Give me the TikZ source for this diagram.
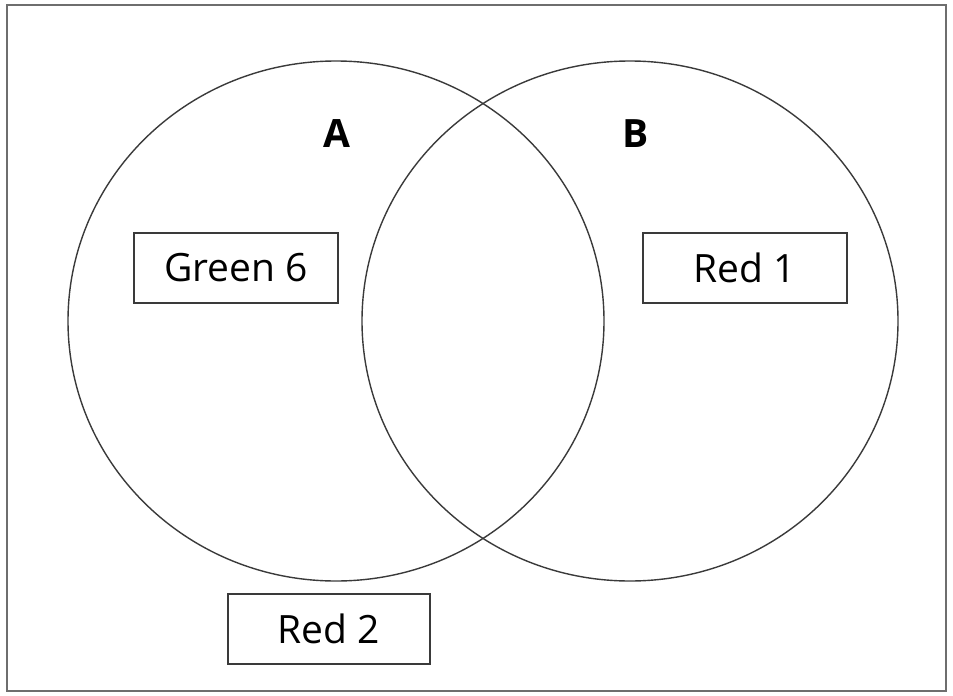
\documentclass[tikz,border=0pt]{standalone}
\usepackage{fontspec}
\setmainfont{Open Sans}
\usepackage{tikz}
\usetikzlibrary{positioning}
\definecolor{linegray}{HTML}{3A3A3A}
\definecolor{framegray}{HTML}{6E6E6E}

\begin{document}
\begin{tikzpicture}[
  x=1pt, y=-1pt,
  setring/.style={draw=linegray, line width=1.4pt},
  setlabel/.style={font=\fontsize{39}{44}\selectfont\bfseries, text=black},
  itembox/.style={rectangle, draw=linegray, line width=1.3pt, minimum width=204pt, minimum height=70pt, inner sep=0pt, font=\fontsize{39}{44}\selectfont}
]
\useasboundingbox (0,0) rectangle (953,696);
\draw[draw=framegray, line width=2pt] (7,5) rectangle (946,691);

\draw[setring] (336,321) ellipse [x radius=268, y radius=260];
\draw[setring] (630,321) ellipse [x radius=268, y radius=260];

\node[setlabel] (la) at (337,134) {A};
\node[setlabel] (lb) at (636,134) {B};

\node[itembox] (green) at (236,268) {Green 6};
\node[itembox] (redone) at (745,268) {Red 1};
\node[itembox, minimum width=202pt] (redtwo) at (329,629) {Red 2};
\end{tikzpicture}
\end{document}
